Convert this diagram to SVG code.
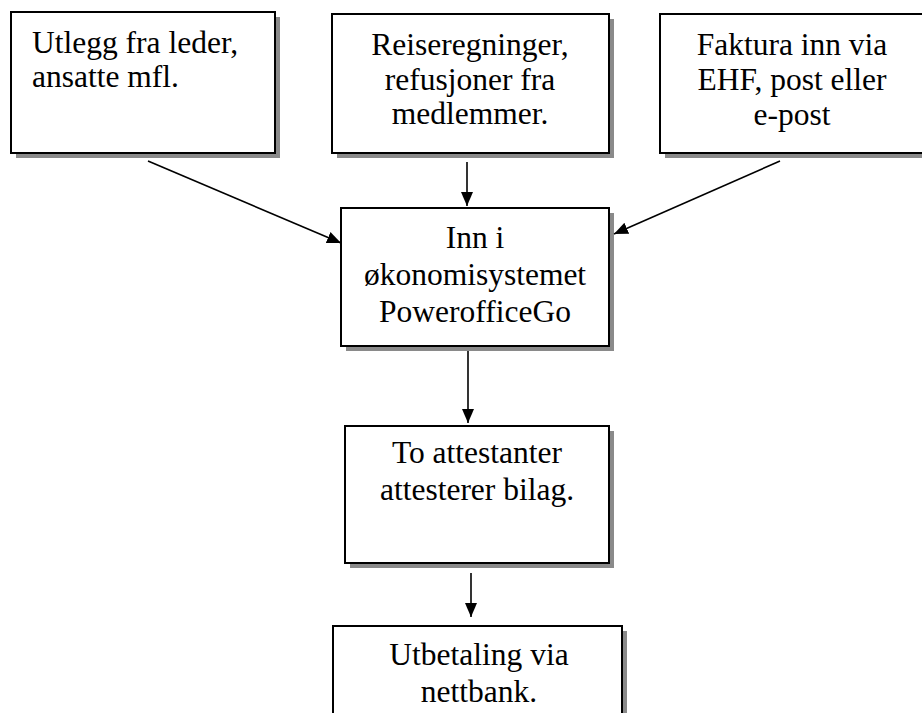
<svg xmlns="http://www.w3.org/2000/svg" width="922" height="713" viewBox="0 0 922 713">
<style>
.box{fill:#fff;stroke:#000;stroke-width:2}
.sh{fill:#8a8a8a}
.t{font-family:"Liberation Serif","Times New Roman",serif;font-size:31.5px;fill:#000}
.c{text-anchor:middle}
.conn{stroke:#000;stroke-width:1.6;fill:none;marker-end:url(#ah)}
</style>
<defs>
<marker id="ah" markerUnits="userSpaceOnUse" markerWidth="16" markerHeight="14" refX="14" refY="6" orient="auto" viewBox="0 0 16 12">
<path d="M0,0 L14,6 L0,12 Z" fill="#000"/>
</marker>
</defs>
<rect width="922" height="713" fill="#fff"/>
<g id="n1">
<rect class="sh" x="16" y="17" width="264" height="141"/>
<rect class="box" x="11" y="12" width="264" height="141"/>
<text class="t" x="32" y="53">Utlegg fra leder,</text>
<text class="t" x="32" y="87">ansatte mfl.</text>
</g>
<g id="n2">
<rect class="sh" x="337" y="19" width="277" height="139"/>
<rect class="box" x="332" y="14" width="277" height="139"/>
<text class="t c" x="470" y="55">Reiseregninger,</text>
<text class="t c" x="470" y="90">refusjoner fra</text>
<text class="t c" x="470" y="124">medlemmer.</text>
</g>
<g id="n3">
<rect class="sh" x="665" y="19" width="270" height="139"/>
<rect class="box" x="660" y="14" width="270" height="139"/>
<text class="t c" x="792" y="55">Faktura inn via</text>
<text class="t c" x="792" y="90">EHF, post eller</text>
<text class="t c" x="792" y="125">e-post</text>
</g>
<g id="n4">
<rect class="sh" x="346" y="213" width="268" height="138"/>
<rect class="box" x="341" y="208" width="268" height="138"/>
<text class="t c" x="475" y="248">Inn i</text>
<text class="t c" x="475" y="285">økonomisystemet</text>
<text class="t c" x="475" y="322">PowerofficeGo</text>
</g>
<g id="n5">
<rect class="sh" x="350" y="431" width="264" height="137"/>
<rect class="box" x="345" y="426" width="264" height="137"/>
<text class="t c" x="477" y="463">To attestanter</text>
<text class="t c" x="477" y="500">attesterer bilag.</text>
</g>
<g id="n6">
<rect class="sh" x="338" y="631" width="289" height="120"/>
<rect class="box" x="333" y="626" width="289" height="120"/>
<text class="t c" x="479" y="665">Utbetaling via</text>
<text class="t c" x="479" y="702">nettbank.</text>
</g>
<g id="connectors">
<line class="conn" x1="148" y1="161" x2="341" y2="243"/>
<line class="conn" x1="467" y1="162" x2="467" y2="206"/>
<line class="conn" x1="780" y1="161" x2="614" y2="234"/>
<line class="conn" x1="468" y1="351" x2="468" y2="423"/>
<line class="conn" x1="471" y1="573" x2="471" y2="617"/>
</g>
</svg>
